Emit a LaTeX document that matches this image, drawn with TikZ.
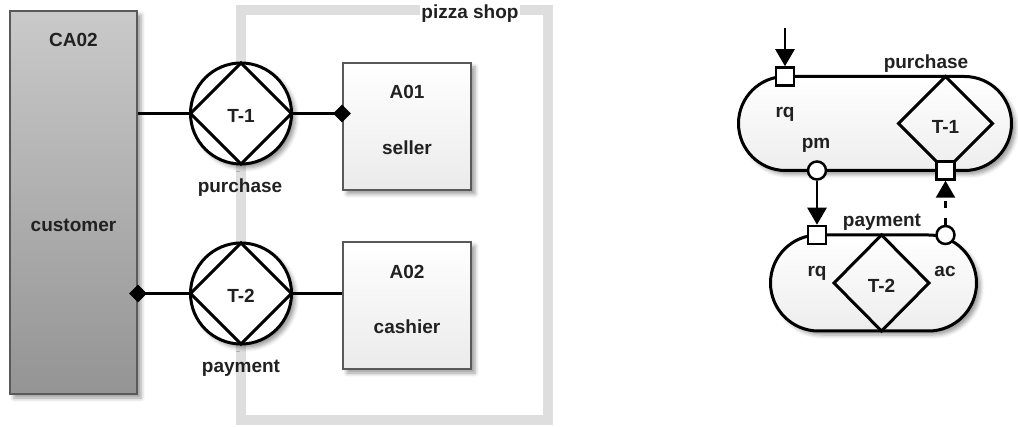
\documentclass[tikz,border=0pt]{standalone}
\usepackage{fontspec}
\setmainfont{Liberation Sans}
\usetikzlibrary{shapes.geometric,arrows.meta,shadows.blur}

\begin{document}
\begin{tikzpicture}[x=1pt,y=-1pt,
  lbl/.style={font=\fontsize{19}{22}\selectfont\bfseries, text=black!87, inner sep=0pt, anchor=base},
  softshadow/.style={blur shadow={shadow xshift=4pt, shadow yshift=-4pt, shadow blur radius=4pt, shadow opacity=40}},
  rolebox/.style={rectangle, draw=black!65, line width=2pt, top color=white, bottom color=black!8,
    minimum width=128pt, minimum height=127pt, inner sep=0pt, softshadow},
  compbox/.style={rectangle, draw=black!65, line width=2pt, top color=black!21, bottom color=black!42,
    minimum width=127pt, minimum height=383pt, inner sep=0pt, softshadow},
  tcirc/.style={circle, draw=black, line width=3pt, fill=white, minimum size=101pt,
    inner sep=0pt, outer sep=0pt, softshadow},
  tdia/.style={diamond, draw=black, line width=3pt, inner sep=0pt, outer sep=0pt},
  conn/.style={line width=3pt, draw=black},
  marker/.style={diamond, fill=black, inner sep=0pt, minimum width=18pt, minimum height=18pt},
  frame/.style={line width=10pt, draw=black!13},
  capsule/.style={rectangle, draw=black, line width=3pt, top color=white, bottom color=black!7,
    inner sep=0pt, softshadow},
  sqport/.style={rectangle, draw=black, line width=2.5pt, fill=white, minimum size=18pt, inner sep=0pt},
  circport/.style={circle, draw=black, line width=2.5pt, fill=white, minimum size=18pt, inner sep=0pt},
  arr/.style={line width=2.5pt, draw=black, -{Triangle[length=17pt,width=19pt]}}
]
\useasboundingbox (0,0) rectangle (1018,427);

% ---------- organisation view ----------
\draw[frame] (241,10) rectangle (548,420);
\node[lbl, fill=white, inner sep=1pt] (shop) at (470,19) {pizza shop};

\node[compbox] (ca02) at (73.5,202.5) {};
\node[lbl] (ca02id) at (73.5,47) {CA02};
\node[lbl] (ca02name) at (73.5,232) {customer};

\node[rolebox] (a01) at (407,126.5) {};
\node[lbl] (a01id) at (407,99) {A01};
\node[lbl] (a01name) at (407,155) {seller};

\node[rolebox] (a02) at (407,305.5) {};
\node[lbl] (a02id) at (407,279) {A02};
\node[lbl] (a02name) at (407,334) {cashier};

\node[tcirc] (t1) at (241,113.5) {};
\node[tdia, minimum width=101pt, minimum height=101pt] (t1d) at (t1) {};
\node[lbl] (t1id) at (241,123) {T-1};
\node[lbl] (t1name) at (240,192.5) {purchase};

\node[tcirc] (t2) at (241,293.5) {};
\node[tdia, minimum width=101pt, minimum height=101pt] (t2d) at (t2) {};
\node[lbl] (t2id) at (241,303) {T-2};
\node[lbl] (t2name) at (241,373) {payment};

\draw[conn] (ca02.east |- t1.west) -- (t1.west);
\draw[conn] (t1.east) -- (t1.east -| a01.west);
\draw[conn] (ca02.east |- t2.west) -- (t2.west);
\draw[conn] (t2.east) -- (t2.east -| a02.west);

\node[marker] (mk1) at (t1.east -| a01.west) {};
\node[marker] (mk2) at (t2.west -| ca02.east) {};

% ---------- process view ----------
\node[capsule, rounded corners=47pt, minimum width=273pt, minimum height=94pt] (purch) at (875,123.5) {};
\node[tdia, minimum width=94pt, minimum height=94pt] (pd) at (945.5,123.5) {};
\node[lbl] (pname) at (926,69) {purchase};
\node[lbl] (pid) at (945.5,134) {T-1};
\node[lbl] (prqlbl) at (785,118) {rq};
\node[lbl] (ppmlbl) at (816,149) {pm};

\node[capsule, rounded corners=48pt, minimum width=206pt, minimum height=96pt] (pay) at (873.5,283) {};
\node[tdia, minimum width=95pt, minimum height=96pt] (yd) at (881.5,283) {};
\node[lbl] (yname) at (882,226.5) {payment};
\node[lbl] (yid) at (881.5,293) {T-2};
\node[lbl] (yrqlbl) at (817,277) {rq};
\node[lbl] (yaclbl) at (945,277) {ac};

\node[sqport] (prq) at (785,76.5) {};
\node[sqport] (pac) at (945.5,170.5) {};
\node[circport] (ppm) at (817,170.5) {};
\node[sqport] (yrq) at (817,235) {};
\node[circport] (yac) at (945.5,235) {};

\coordinate (start) at (785,28);
\draw[arr] (start) -- (prq);
\draw[arr] (ppm) -- (yrq);
\draw[arr, dash pattern=on 7pt off 10pt] (yac) -- (pac);
\end{tikzpicture}
\end{document}
